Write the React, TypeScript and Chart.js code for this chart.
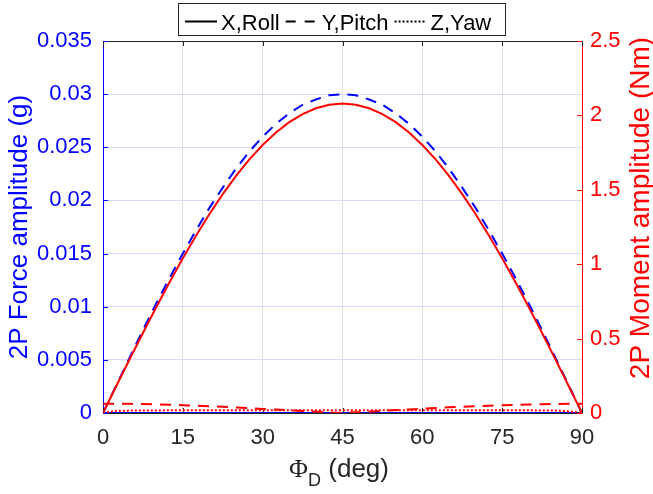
import { useEffect, useRef } from "react";
import { Chart, registerables } from "chart.js";

Chart.register(...registerables);

// Tilt angle Φ_D in degrees
const ANGLES = [
  0, 2.5, 5, 7.5, 10, 12.5, 15, 17.5, 20, 22.5, 25, 27.5, 30, 32.5, 35, 37.5, 40, 42.5, 45,
  47.5, 50, 52.5, 55, 57.5, 60, 62.5, 65, 67.5, 70, 72.5, 75, 77.5, 80, 82.5, 85, 87.5, 90,
];

// 2P force amplitudes (g)
const FORCE_X = [
  0, 0, 0, 0, 0, 0, 0, 0, 0, 0, 0, 0, 0, 0, 0, 0, 0, 0, 0,
  0, 0, 0, 0, 0, 0, 0, 0, 0, 0, 0, 0, 0, 0, 0, 0, 0, 0,
];
const FORCE_Y = [
  0, 0.0026, 0.0052, 0.0078, 0.0103, 0.0127, 0.015, 0.0172, 0.0193, 0.0212, 0.023, 0.0246,
  0.026, 0.0272, 0.0282, 0.029, 0.0295, 0.0299, 0.03, 0.0299, 0.0295, 0.029, 0.0282, 0.0272,
  0.026, 0.0246, 0.023, 0.0212, 0.0193, 0.0172, 0.015, 0.0127, 0.0103, 0.0078, 0.0052, 0.0026, 0,
];
const FORCE_Z = [
  0, 0, 0, 0, 0, 0, 0, 0, 0, 0, 0, 0, 0, 0, 0, 0, 0, 0, 0,
  0, 0, 0, 0, 0, 0, 0, 0, 0, 0, 0, 0, 0, 0, 0, 0, 0, 0,
];

// 2P moment amplitudes (Nm)
const MOMENT_ROLL = [
  0, 0.181, 0.361, 0.538, 0.711, 0.879, 1.04, 1.193, 1.337, 1.471, 1.593, 1.704, 1.801, 1.885,
  1.955, 2.009, 2.048, 2.072, 2.08, 2.072, 2.048, 2.009, 1.955, 1.885, 1.801, 1.704, 1.593,
  1.471, 1.337, 1.193, 1.04, 0.879, 0.711, 0.538, 0.361, 0.181, 0,
];
const MOMENT_PITCH = [
  0.0625, 0.0622, 0.0614, 0.06, 0.058, 0.0556, 0.0528, 0.0494, 0.0456, 0.0414, 0.0368, 0.032,
  0.0275, 0.0228, 0.0178, 0.0128, 0.009, 0.0045, 0.0005, 0.0045, 0.009, 0.0145, 0.0195,
  0.024, 0.0295, 0.034, 0.038, 0.042, 0.0455, 0.049, 0.052, 0.0548, 0.057, 0.0592, 0.061,
  0.0622, 0.0625,
];
const MOMENT_YAW = [
  0, 0.015, 0.016, 0.017, 0.017, 0.018, 0.018, 0.018, 0.019, 0.019, 0.019, 0.019, 0.019, 0.019,
  0.019, 0.019, 0.019, 0.019, 0.019, 0.019, 0.019, 0.019, 0.019, 0.019, 0.019, 0.019, 0.019,
  0.019, 0.019, 0.019, 0.018, 0.018, 0.018, 0.017, 0.016, 0.012, 0,
];

const X_TICKS = [0, 15, 30, 45, 60, 75, 90];
const LEFT_TICKS = [0, 0.005, 0.01, 0.015, 0.02, 0.025, 0.03, 0.035];
const RIGHT_TICKS = [0, 0.5, 1, 1.5, 2, 2.5];

const LEGEND_ITEMS = ["X,Roll", "Y,Pitch", "Z,Yaw"];

const SANS = '"Liberation Sans", Arial, Helvetica, sans-serif';
const SERIF = '"Liberation Serif", "DejaVu Serif", serif';
const BLUE = "#0000ff";
const RED = "#ff0000";
const AXIS = "#262626";
const SOLID: number[] = [];
const DASHED = [11, 8];
const DOTTED = [2, 2];

export default function App() {
  const ref = useRef<HTMLCanvasElement>(null);

  useEffect(() => {
    const canvas = ref.current;
    if (!canvas) return;
    const pts = (ys: number[]) => ANGLES.map((x, i) => ({ x, y: ys[i] }));

    const frame = {
      id: "frame",
      beforeDatasetsDraw(chart: any) {
        const { ctx, chartArea: a, scales } = chart;
        const t = Math.round(a.top) + 0.5;
        ctx.save();
        ctx.lineWidth = 1;
        // top edge of the box
        ctx.strokeStyle = AXIS;
        ctx.beginPath();
        ctx.moveTo(a.left, t);
        ctx.lineTo(a.right, t);
        ctx.stroke();
        // inward tick marks
        const len = 5;
        ctx.beginPath();
        for (const v of X_TICKS) {
          const x = Math.round(scales.x.getPixelForValue(v)) + 0.5;
          ctx.moveTo(x, a.bottom);
          ctx.lineTo(x, a.bottom - len);
          ctx.moveTo(x, a.top);
          ctx.lineTo(x, a.top + len);
        }
        ctx.stroke();
        ctx.strokeStyle = BLUE;
        ctx.beginPath();
        for (const v of LEFT_TICKS) {
          const y = Math.round(scales.yL.getPixelForValue(v)) + 0.5;
          ctx.moveTo(a.left, y);
          ctx.lineTo(a.left + len, y);
        }
        ctx.stroke();
        ctx.strokeStyle = RED;
        ctx.beginPath();
        for (const v of RIGHT_TICKS) {
          const y = Math.round(scales.yR.getPixelForValue(v)) + 0.5;
          ctx.moveTo(a.right, y);
          ctx.lineTo(a.right - len, y);
        }
        ctx.stroke();
        ctx.restore();
      },
      afterDraw(chart: any) {
        const { ctx, chartArea: a } = chart;
        ctx.save();

        // legend box
        ctx.fillStyle = "#ffffff";
        ctx.fillRect(178, 3, 327, 33);
        ctx.strokeStyle = AXIS;
        ctx.lineWidth = 1;
        ctx.strokeRect(178.5, 3.5, 327, 32);
        ctx.font = `22px ${SANS}`;
        ctx.textBaseline = "alphabetic";
        ctx.textAlign = "left";
        const dashes = [SOLID, [10, 9], DOTTED];
        let lx = 185;
        LEGEND_ITEMS.forEach((label, i) => {
          ctx.strokeStyle = "#000000";
          ctx.lineWidth = 2;
          ctx.setLineDash(dashes[i]);
          ctx.beginPath();
          ctx.moveTo(lx, 21.5);
          ctx.lineTo(lx + 32, 21.5);
          ctx.stroke();
          ctx.setLineDash([]);
          ctx.fillStyle = "#000000";
          ctx.fillText(label, lx + 36, 29.5);
          lx += 36 + ctx.measureText(label).width + 6;
        });

        // y-axis titles
        ctx.textAlign = "center";
        ctx.textBaseline = "middle";
        ctx.fillStyle = BLUE;
        ctx.font = `26px ${SANS}`;
        ctx.save();
        ctx.translate(20, 227);
        ctx.rotate(-Math.PI / 2);
        ctx.fillText("2P Force amplitude (g)", 0, 0);
        ctx.restore();
        ctx.fillStyle = RED;
        ctx.font = `28px ${SANS}`;
        ctx.save();
        ctx.translate(641, 208);
        ctx.rotate(-Math.PI / 2);
        ctx.fillText("2P Moment amplitude (Nm)", 0, 0);
        ctx.restore();

        // x-axis title: Φ with subscript D
        ctx.textAlign = "left";
        ctx.textBaseline = "alphabetic";
        ctx.fillStyle = AXIS;
        const phiFont = `26px ${SERIF}`;
        const subFont = `18px ${SANS}`;
        const restFont = `26px ${SANS}`;
        ctx.font = phiFont;
        const wPhi = ctx.measureText("Φ").width;
        ctx.font = subFont;
        const wSub = ctx.measureText("D").width;
        ctx.font = restFont;
        const rest = " (deg)";
        const wRest = ctx.measureText(rest).width;
        const total = wPhi + wSub + wRest;
        let tx = 339 - total / 2;
        const base = 477;
        ctx.font = phiFont;
        ctx.fillText("Φ", tx, base);
        tx += wPhi;
        ctx.font = subFont;
        ctx.fillText("D", tx, base + 9);
        tx += wSub;
        ctx.font = restFont;
        ctx.fillText(rest, tx, base);

        ctx.restore();
      },
    };

    const line = (data: number[], color: string, dash: number[], axis: string) => ({
      data: pts(data),
      yAxisID: axis,
      borderColor: color,
      backgroundColor: color,
      borderWidth: 2,
      borderDash: dash,
      borderCapStyle: "butt" as const,
      pointRadius: 0,
      fill: false,
      tension: 0,
    });

    const chart = new Chart(canvas, {
      type: "line",
      data: {
        datasets: [
          line(MOMENT_ROLL, RED, SOLID, "yR"),
          line(MOMENT_PITCH, RED, DASHED, "yR"),
          line(MOMENT_YAW, RED, DOTTED, "yR"),
          line(FORCE_X, BLUE, SOLID, "yL"),
          line(FORCE_Y, BLUE, DASHED, "yL"),
          line(FORCE_Z, BLUE, DOTTED, "yL"),
        ],
      },
      options: {
        animation: false,
        responsive: false,
        devicePixelRatio: 1,
        layout: { padding: { top: 41, left: 0, right: 0, bottom: 0 } },
        plugins: { legend: { display: false }, tooltip: { enabled: false }, title: { display: false } },
        scales: {
          x: {
            type: "linear",
            min: 0,
            max: 90,
            afterBuildTicks: (s: any) => {
              s.ticks = X_TICKS.map((value) => ({ value }));
            },
            afterFit: (s: any) => {
              s.height = 81;
            },
            ticks: {
              color: AXIS,
              font: { family: SANS, size: 22 },
              padding: 12,
              maxRotation: 0,
              autoSkip: false,
              callback: (v: any) => String(v),
            },
            grid: { color: "#dfdfdf", drawTicks: false },
            border: { display: true, color: AXIS, width: 1 },
          },
          yL: {
            type: "linear",
            position: "left",
            min: 0,
            max: 0.035,
            afterBuildTicks: (s: any) => {
              s.ticks = LEFT_TICKS.map((value) => ({ value }));
            },
            afterFit: (s: any) => {
              s.width = 103;
            },
            ticks: {
              color: BLUE,
              font: { family: SANS, size: 22 },
              padding: 11,
              autoSkip: false,
              callback: (v: any) => String(v),
            },
            grid: { color: "#d9d9ff", drawTicks: false },
            border: { display: true, color: BLUE, width: 1 },
          },
          yR: {
            type: "linear",
            position: "right",
            min: 0,
            max: 2.5,
            afterBuildTicks: (s: any) => {
              s.ticks = RIGHT_TICKS.map((value) => ({ value }));
            },
            afterFit: (s: any) => {
              s.width = 71;
            },
            ticks: {
              color: RED,
              font: { family: SANS, size: 22 },
              padding: 8,
              autoSkip: false,
              callback: (v: any) => String(v),
            },
            grid: { display: false, drawTicks: false },
            border: { display: true, color: RED, width: 1 },
          },
        },
      },
      plugins: [frame],
    } as any);

    return () => chart.destroy();
  }, []);

  return (
    <div style={{ position: "absolute", left: 0, top: 0, width: 653, height: 494, background: "#ffffff" }}>
      <canvas ref={ref} width={653} height={494} style={{ display: "block" }} />
    </div>
  );
}
